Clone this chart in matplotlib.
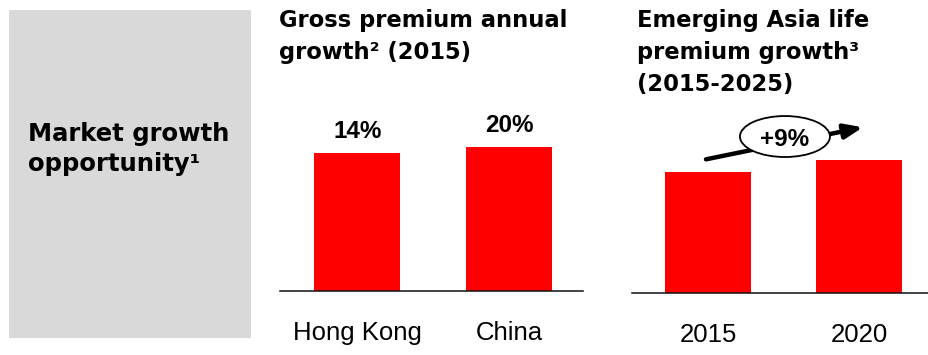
import matplotlib
matplotlib.use("Agg")
import matplotlib.pyplot as plt
from matplotlib import font_manager
from matplotlib.patches import Rectangle, Ellipse

# ---- data -------------------------------------------------------------
gross_categories = ["Hong Kong", "China"]
gross_growth_pct = [14, 20]            # gross premium annual growth, 2015
gross_labels = ["14%", "20%"]

asia_years = ["2015", "2020"]
asia_premium_index = [100, 110]        # emerging Asia life premium (index, 2015 = 100)
asia_cagr_label = "+9%"

# ---- figure -----------------------------------------------------------
W, H = 929, 355
fig = plt.figure(figsize=(W / 100, H / 100), dpi=100)
fig.patch.set_facecolor("white")

RED = "#FF0000"
GREY = "#D9D9D9"
HEAD_FONT = "DejaVu Sans"
BODY_FONT = "Liberation Sans"


def bold_body_font(size):
    """Regular-width Liberation Sans Bold (skip the Narrow cut)."""
    for f in font_manager.fontManager.ttflist:
        if (f.name == "Liberation Sans" and f.weight in (700, "bold")
                and f.style == "normal" and "narrow" not in f.fname.lower()):
            return font_manager.FontProperties(fname=f.fname, size=size)
    return font_manager.FontProperties(family=BODY_FONT, weight="bold", size=size)


def px_rect(left, top, right, bottom):
    """Figure-fraction rectangle from pixel edges (origin top-left)."""
    return [left / W, 1 - bottom / H, (right - left) / W, (bottom - top) / H]


def px_text(x, y, s, **kw):
    fig.text(x / W, 1 - y / H, s, **kw)


# grey side panel
fig.add_artist(Rectangle((8.5 / W, 1 - 338 / H), (251 - 8.5) / W, (338 - 9.5) / H,
                         transform=fig.transFigure, facecolor=GREY,
                         edgecolor="none", zorder=0))
side_kw = dict(fontsize=17.5, fontweight="bold", family=HEAD_FONT,
               ha="left", va="baseline", color="black")
px_text(28, 141.5, "Market growth", **side_kw)
px_text(28, 171.5, "opportunity\u00b9", **side_kw)

title_kw = dict(fontsize=16.3, fontweight="bold", family=HEAD_FONT,
                ha="left", va="baseline", color="black")
px_text(279, 27.5, "Gross premium annual", **title_kw)
px_text(279, 59.5, "growth\u00b2 (2015)", **title_kw)
px_text(637, 27.5, "Emerging Asia life", **title_kw)
px_text(637, 59.5, "premium growth\u00b3", **title_kw)
px_text(637, 91.5, "(2015-2025)", **title_kw)


def style_axes(ax):
    for side in ("top", "left", "right"):
        ax.spines[side].set_visible(False)
    ax.spines["bottom"].set_linewidth(1.1)
    ax.spines["bottom"].set_color("#111111")
    ax.set_yticks([])
    ax.tick_params(axis="x", length=0, pad=21.5)
    for lbl in ax.get_xticklabels():
        lbl.set_fontfamily(BODY_FONT)
        lbl.set_fontsize(18.5)
    ax.patch.set_alpha(0)


value_font = bold_body_font(17.5)

# ---- gross premium growth panel ---------------------------------------
ax1 = fig.add_axes(px_rect(280, 100, 583, 290.7))
GROSS_FLOOR = -117                      # value axis starts below zero
x1 = list(range(len(gross_categories)))
ax1.bar(x1, [v - GROSS_FLOOR for v in gross_growth_pct],
        bottom=GROSS_FLOOR, width=0.566, color=RED)
ax1.set_ylim(GROSS_FLOOR, GROSS_FLOOR + 190.7 / 1.05)
ax1.set_xlim(-0.509, 1.487)
ax1.set_xticks(x1, gross_categories)
style_axes(ax1)
for xi, v, lab in zip(x1, gross_growth_pct, gross_labels):
    ax1.annotate(lab, (xi, v), xytext=(0, 7), textcoords="offset points",
                 ha="center", va="bottom", fontproperties=value_font)

# ---- emerging Asia panel ----------------------------------------------
ax2 = fig.add_axes(px_rect(632, 100, 929, 293))
x2 = list(range(len(asia_years)))
ax2.bar(x2, asia_premium_index, width=0.57, color=RED)
ax2.set_ylim(0, 193 / 1.213)
ax2.set_xlim(-0.503, 1.464)
ax2.set_xticks(x2, asia_years)
style_axes(ax2)

ax2.annotate("", xy=(1.026, 136.6), xytext=(-0.013, 110.2),
             arrowprops=dict(arrowstyle="-|>,head_length=0.55,head_width=0.22",
                             lw=3.2, color="black", mutation_scale=20,
                             shrinkA=0, shrinkB=0), zorder=3)
ax2.add_patch(Ellipse((0.51, 129.0), 0.596, 33.8, facecolor="white",
                      edgecolor="black", lw=1.3, zorder=4, clip_on=False))
ax2.text(0.51, 129.0, asia_cagr_label, ha="center", va="center_baseline",
         fontproperties=value_font, zorder=5)

fig.savefig("out.png", dpi=100)
